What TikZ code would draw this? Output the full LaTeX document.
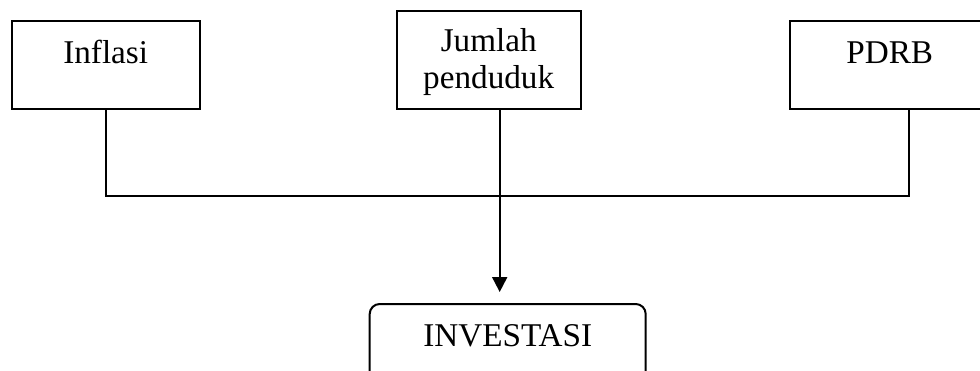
\documentclass[tikz,border=0pt]{standalone}
\usepackage{fontspec}
\setmainfont{Liberation Serif}
\usetikzlibrary{positioning,arrows.meta}
\tikzset{
	factor/.style={draw, line width=1pt, minimum width=94pt, inner ysep=9pt, text height=12pt, text depth=14pt, font=\fontsize{16.6}{18.5}\selectfont},
	link/.style={line width=1pt}
}

\begin{document}
\begin{tikzpicture}

				\useasboundingbox (0,0) rectangle (490pt,-185pt);
				\clip (0,0) rectangle (490pt,-185pt);

				\node[factor, anchor=north west] (inflasi) at (5.35pt,-10pt) {Inflasi};
				\node[factor, minimum width=92pt, align=center, inner ysep=8pt, text height=30.5pt, text depth=2.5pt] (jumlah) [right=97.5pt of inflasi.north east, anchor=north west, yshift=5pt] {Jumlah\\penduduk};
				\node[factor, minimum width=100pt] (pdrb) [right=103.5pt of jumlah.north east, anchor=north west, yshift=-5pt] {PDRB};
				\node[factor, minimum width=138pt, rounded corners=5pt] (investasi) [below=96.5pt of jumlah.south west, anchor=north west, xshift=-13.5pt] {INVESTASI};

				\coordinate (join) at ([xshift=5.5pt, yshift=-43pt]jumlah.south);

				\draw[link] (inflasi.south) |- (join) -| ([xshift=9.5pt]pdrb.south);
				\draw[link, -{Triangle[length=7.5pt, width=7.5pt]}, shorten >=5.5pt] ([xshift=5.5pt]jumlah.south) -- ([xshift=5.5pt]jumlah.south |- investasi.north);

			\end{tikzpicture}
\end{document}
